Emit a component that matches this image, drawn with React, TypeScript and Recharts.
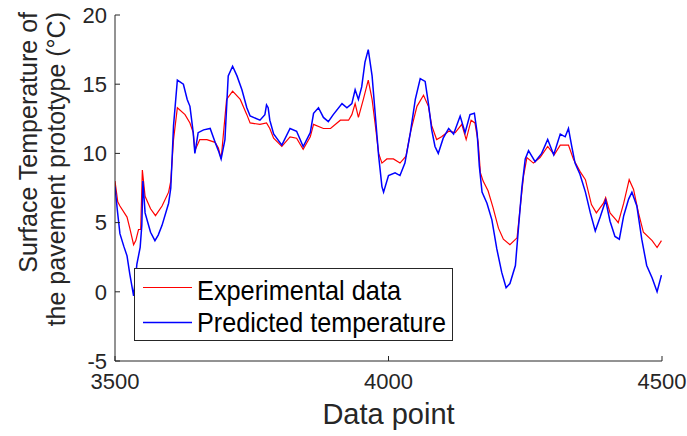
import { LineChart, Line, XAxis, YAxis, Legend } from "recharts";

const FONT = "'Liberation Sans', Arial, sans-serif";
const INK = "#262626";

// experimental data (red)
const expIdx = [
  3500, 3505, 3509, 3522, 3527, 3534, 3538, 3543, 3547, 3550, 3555, 3565, 3574, 3586, 3598, 3602,
  3607, 3614, 3628, 3637, 3643, 3646, 3655, 3668, 3683, 3689, 3694, 3704, 3715, 3729, 3741, 3747,
  3765, 3777, 3783, 3790, 3805, 3820, 3832, 3844, 3857, 3863, 3881, 3894, 3912, 3927, 3933, 3939,
  3945, 3954, 3963, 3970, 3976, 3982, 3988, 3997, 4009, 4021, 4032, 4040, 4052, 4064, 4073, 4079,
  4088, 4097, 4110, 4122, 4134, 4142, 4151, 4158, 4164, 4168, 4173, 4182, 4191, 4201, 4210, 4222,
  4235, 4241, 4247, 4253, 4265, 4277, 4291, 4303, 4314, 4329, 4338, 4350, 4360, 4371, 4380, 4393,
  4397, 4405, 4416, 4420, 4430, 4440, 4448, 4457, 4466, 4482, 4491, 4499,
];
const expTemp = [
  8.0, 6.5, 6.2, 5.4, 4.6, 3.4, 3.7, 4.5, 4.5, 8.8, 6.9, 6.0, 5.5, 6.2, 7.2, 8.0,
  11.0, 13.3, 12.8, 12.2, 11.5, 10.2, 11.0, 11.0, 10.8, 10.4, 9.6, 13.9, 14.5, 13.9, 12.8, 12.2,
  12.1, 12.2, 11.8, 11.1, 10.5, 11.2, 11.1, 10.3, 11.2, 12.1, 11.8, 11.8, 12.4, 12.4, 12.8, 13.6,
  12.6, 13.9, 15.3, 13.9, 12.0, 10.0, 9.3, 9.6, 9.6, 9.3, 9.8, 11.5, 13.4, 14.2, 13.4, 12.0,
  11.0, 11.2, 11.6, 11.5, 12.1, 11.0, 12.4, 12.2, 10.8, 8.6, 8.0, 7.3, 6.1, 4.6, 3.8, 3.4,
  3.9, 6.2, 8.4, 9.7, 9.3, 9.7, 10.5, 9.9, 10.6, 10.6, 9.6, 8.7, 8.1, 6.3, 5.7, 6.4,
  6.8, 5.7, 5.2, 5.0, 6.4, 8.1, 7.4, 5.7, 4.3, 3.7, 3.2, 3.7,
];

// predicted temperature (blue)
const predIdx = [
  3500, 3504, 3509, 3516, 3522, 3527, 3534, 3540, 3546, 3549, 3551, 3555, 3565, 3573, 3579, 3586,
  3598, 3602, 3607, 3614, 3625, 3632, 3637, 3643, 3646, 3652, 3662, 3674, 3683, 3689, 3694, 3701,
  3707, 3715, 3723, 3732, 3741, 3747, 3765, 3774, 3777, 3780, 3783, 3790, 3805, 3820, 3832, 3844,
  3857, 3863, 3872, 3881, 3890, 3899, 3915, 3924, 3933, 3939, 3945, 3951, 3957, 3963, 3970, 3976,
  3982, 3988, 3991, 4000, 4012, 4021, 4030, 4040, 4049, 4058, 4067, 4073, 4079, 4085, 4091, 4100,
  4110, 4119, 4131, 4140, 4149, 4157, 4162, 4166, 4171, 4180, 4189, 4198, 4207, 4215, 4222, 4232,
  4238, 4244, 4250, 4256, 4268, 4280, 4291, 4302, 4314, 4323, 4329, 4335, 4341, 4350, 4360, 4369,
  4378, 4387, 4397, 4405, 4414, 4422, 4430, 4439, 4445, 4454, 4463, 4472, 4482, 4491, 4499,
];
const predTemp = [
  7.6, 6.0, 4.2, 3.3, 2.6, 1.3, -0.3, 2.0, 3.2, 4.8, 8.0, 5.7, 4.3, 3.7, 4.1, 4.8,
  6.4, 7.5, 12.0, 15.3, 15.0, 13.9, 13.4, 11.5, 10.0, 11.5, 11.7, 11.8, 10.8, 10.2, 9.6, 11.0,
  15.6, 16.3, 15.6, 14.6, 13.3, 12.7, 12.4, 12.8, 13.5, 13.3, 12.4, 11.4, 10.6, 11.8, 11.6, 10.5,
  11.5, 12.9, 13.3, 12.6, 12.3, 12.8, 13.6, 13.3, 13.6, 14.6, 13.9, 14.8, 16.6, 17.5, 15.6, 12.7,
  9.8, 7.6, 7.2, 8.4, 8.6, 8.4, 9.3, 11.5, 13.9, 15.4, 15.2, 13.6, 11.7, 10.5, 10.0, 11.1,
  11.8, 11.4, 12.7, 11.5, 12.8, 12.9, 11.5, 9.1, 7.2, 6.4, 5.2, 3.1, 1.4, 0.3, 0.6, 1.9,
  4.8, 7.6, 9.6, 10.2, 9.4, 10.0, 11.0, 9.9, 11.4, 11.2, 11.8, 10.5, 9.3, 8.5, 7.2, 5.7,
  4.4, 5.4, 6.6, 5.1, 4.0, 3.8, 5.5, 6.7, 7.2, 6.2, 3.8, 1.9, 1.0, 0.0, 1.2,
];

const xTicks = [3500, 4000, 4500];
const yTicks = [-5, 0, 5, 10, 15, 20];

const expData = expIdx.map((x, i) => ({ x, t: expTemp[i] }));
const predData = predIdx.map((x, i) => ({ x, t: predTemp[i] }));

function YLabel() {
  return (
    <g fontFamily={FONT} fontSize={25} fill={INK}>
      <text transform="translate(37,12) rotate(-90)" textAnchor="end">
        Surface Temperature of
      </text>
      <text transform="translate(65,12) rotate(-90)" textAnchor="end">
        the pavement prototype (°C)
      </text>
    </g>
  );
}

function LegendBox() {
  return (
    <svg width={320} height={74} style={{ display: "block" }}>
      <rect x={0.5} y={0.5} width={318} height={72} fill="#fff" stroke={INK} />
      <line x1={9} x2={58} y1={19.5} y2={19.5} stroke="#ff0000" strokeWidth={1} />
      <text x={63} y={32} fontFamily={FONT} fontSize={28} fill="#000"
        textLength={204} lengthAdjust="spacingAndGlyphs">
        Experimental data
      </text>
      <line x1={9} x2={58} y1={54.5} y2={54.5} stroke="#0000ff" strokeWidth={1.5} />
      <text x={63} y={64} fontFamily={FONT} fontSize={28} fill="#000"
        textLength={249} lengthAdjust="spacingAndGlyphs">
        Predicted temperature
      </text>
    </svg>
  );
}

export default function App() {
  return (
    <div style={{ position: "absolute", left: 0, top: 0, background: "#fff" }}>
      <LineChart width={687} height={436} margin={{ top: 15, right: 25, bottom: 0, left: 0 }}>
        <XAxis
          type="number"
          dataKey="x"
          domain={[3500, 4500]}
          ticks={xTicks}
          allowDataOverflow
          height={75}
          stroke={INK}
          tickSize={-5}
          tickMargin={17}
          tick={{ fontSize: 22, fill: INK, fontFamily: FONT }}
          label={{
            value: "Data point",
            position: "insideBottom",
            offset: 12,
            style: { fontSize: 29, fill: INK, fontFamily: FONT },
          }}
        />
        <YAxis
          type="number"
          domain={[-5, 20]}
          ticks={yTicks}
          allowDataOverflow
          width={115}
          stroke={INK}
          tickSize={-5}
          tickMargin={13}
          tick={{ fontSize: 22, fill: INK, fontFamily: FONT }}
          label={{ content: () => <YLabel /> }}
        />
        <Legend
          layout="horizontal"
          verticalAlign="middle"
          align="center"
          wrapperStyle={{ left: 134, top: 268, width: 320, height: 74 }}
          content={() => <LegendBox />}
        />
        <Line
          data={expData}
          dataKey="t"
          name="Experimental data"
          stroke="#ff0000"
          strokeWidth={1.2}
          dot={false}
          isAnimationActive={false}
        />
        <Line
          data={predData}
          dataKey="t"
          name="Predicted temperature"
          stroke="#0000ff"
          strokeWidth={1.5}
          dot={false}
          isAnimationActive={false}
        />
      </LineChart>
    </div>
  );
}
